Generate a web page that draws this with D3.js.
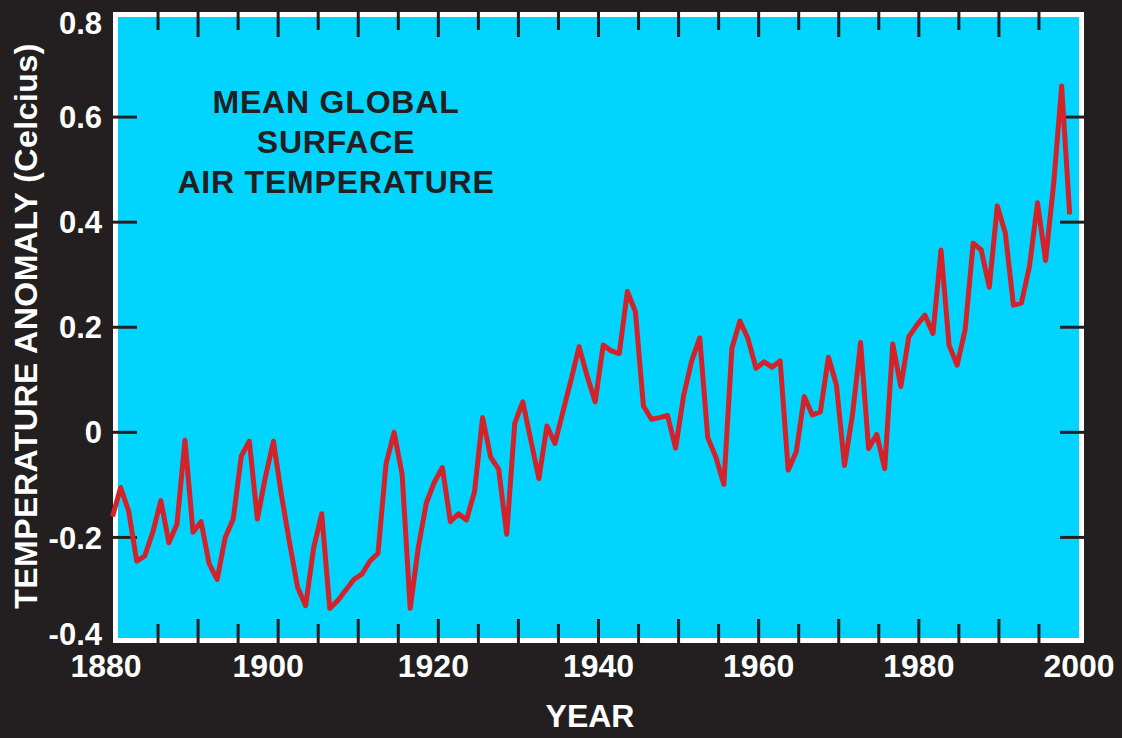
<!DOCTYPE html>
<html>
<head>
<meta charset="utf-8">
<script src="https://cdn.jsdelivr.net/npm/d3@7"></script>
<style>
    html, body { margin: 0; padding: 0; background: #231f20; }
    #chart text { font-family: 'Liberation Sans', Arial, Helvetica, sans-serif; font-weight: bold; }
</style>
</head>
<body>
<div id="chart"></div>
<script>
//Datos (anomalía anual, ºC)
const YEARS = d3.range(1880, 2000);
const ANOMALY = [
    -0.16, -0.105, -0.15, -0.245, -0.235, -0.19, -0.13, -0.21, -0.175, -0.015,
    -0.19, -0.17, -0.25, -0.28, -0.20, -0.165, -0.045, -0.017, -0.165, -0.085,
    -0.017, -0.12, -0.21, -0.295, -0.33, -0.22, -0.155, -0.335, -0.32, -0.30,
    -0.28, -0.27, -0.245, -0.23, -0.06, 0.0, -0.08, -0.335, -0.22, -0.135,
    -0.095, -0.067, -0.17, -0.155, -0.167, -0.113, 0.028, -0.047, -0.07, -0.194,
    0.017, 0.058, -0.015, -0.088, 0.012, -0.021, 0.04, 0.10, 0.163, 0.107,
    0.058, 0.166, 0.155, 0.15, 0.268, 0.23, 0.05, 0.025, 0.028, 0.032,
    -0.03, 0.07, 0.136, 0.18, -0.01, -0.047, -0.099, 0.16, 0.212, 0.178,
    0.122, 0.134, 0.124, 0.136, -0.072, -0.037, 0.068, 0.033, 0.039, 0.143,
    0.09, -0.063, 0.034, 0.171, -0.031, -0.004, -0.069, 0.168, 0.087, 0.182,
    0.204, 0.223, 0.188, 0.347, 0.166, 0.128, 0.195, 0.36, 0.347, 0.276,
    0.431, 0.379, 0.242, 0.246, 0.316, 0.437, 0.327, 0.472, 0.659, 0.415
];
const X_TICKS = d3.range(1885, 2000, 5);
const X_LABELS = [1880, 1900, 1920, 1940, 1960, 1980, 2000];
const Y_TICKS = [-0.2, 0, 0.2, 0.4, 0.6];
const Y_LABELS = [-0.4, -0.2, 0, 0.2, 0.4, 0.6, 0.8];
const TITLE_LINES = ['MEAN GLOBAL', 'SURFACE', 'AIR TEMPERATURE'];

//Colores fijos
const COLOR_BG = '#231f20';
const COLOR_PLOT = '#00d4ff';
const COLOR_LINE = '#d2232a';

let data = YEARS.map(function(y, i) { return { year: y, value: ANOMALY[i] }; });

let width = 1122, height = 738;
let frame = { left: 113, right: 1084, top: 12, bottom: 643, border: 5 };

let svg = d3.select('#chart')
    .append('svg')
        .attr('width', width)
        .attr('height', height)
        .style('display', 'block')
        .style('background', COLOR_BG);

let x = d3.scaleLinear()
    .domain([1880, 2000])
    .range([frame.left + frame.border, frame.right - frame.border]);

//La curva original está algo desplazada respecto a las marcas del eje
let xLine = d3.scaleLinear()
    .domain([1880, 1999])
    .range([112.6, 1069.7]);

let y = d3.scaleLinear()
    .domain([-0.4, 0.8])
    .range([642.5, 12]);

//Marco
svg.append('rect')
    .attr('x', frame.left + frame.border / 2)
    .attr('y', frame.top + frame.border / 2)
    .attr('width', frame.right - frame.left - frame.border)
    .attr('height', frame.bottom - frame.top - frame.border)
    .attr('fill', COLOR_PLOT)
    .attr('stroke', '#fff')
    .attr('stroke-width', frame.border);

//Marcas eje X (abajo y arriba)
let isMajor = function(d) { return d % 10 == 0; };

svg.selectAll('.xtick-bottom')
    .data(X_TICKS)
    .enter()
    .append('line')
    .attr('x1', function(d) { return x(d); })
    .attr('x2', function(d) { return x(d); })
    .attr('y1', frame.bottom)
    .attr('y2', function(d) { return frame.bottom - (isMajor(d) ? 24 : 19); })
    .attr('stroke', COLOR_BG)
    .attr('stroke-width', 3);

svg.selectAll('.xtick-top')
    .data(X_TICKS)
    .enter()
    .append('line')
    .attr('x1', function(d) { return x(d); })
    .attr('x2', function(d) { return x(d); })
    .attr('y1', frame.top)
    .attr('y2', function(d) { return frame.top + (isMajor(d) ? 25 : 18); })
    .attr('stroke', COLOR_BG)
    .attr('stroke-width', 3);

//Marcas eje Y (izquierda y derecha)
svg.selectAll('.ytick-left')
    .data(Y_TICKS)
    .enter()
    .append('line')
    .attr('x1', frame.left)
    .attr('x2', frame.left + 24)
    .attr('y1', function(d) { return y(d); })
    .attr('y2', function(d) { return y(d); })
    .attr('stroke', COLOR_BG)
    .attr('stroke-width', 3);

svg.selectAll('.ytick-right')
    .data(Y_TICKS)
    .enter()
    .append('line')
    .attr('x1', frame.right)
    .attr('x2', frame.right - 24)
    .attr('y1', function(d) { return y(d); })
    .attr('y2', function(d) { return y(d); })
    .attr('stroke', COLOR_BG)
    .attr('stroke-width', 3);

//Etiquetas de los ejes
let xNudge = { 1880: -12, 1900: -10, 1920: -5 };

svg.selectAll('.xlabel')
    .data(X_LABELS)
    .enter()
    .append('text')
    .attr('x', function(d) { return x(d) + (xNudge[d] || 0); })
    .attr('y', 677)
    .attr('text-anchor', 'middle')
    .attr('fill', '#fff')
    .style('font-size', '32px')
    .text(function(d) { return d; });

svg.selectAll('.ylabel')
    .data(Y_LABELS)
    .enter()
    .append('text')
    .attr('x', 102)
    .attr('y', function(d) { return Math.min(634, Math.max(23, y(d))); })
    .attr('dy', '0.36em')
    .attr('text-anchor', 'end')
    .attr('fill', '#fff')
    .style('font-size', '31px')
    .text(function(d) { return d == 0 ? '0' : d.toFixed(1); });

svg.append('text')
    .attr('x', 590)
    .attr('y', 727)
    .attr('text-anchor', 'middle')
    .attr('fill', '#fff')
    .style('font-size', '32px')
    .text('YEAR');

svg.append('text')
    .attr('transform', 'translate(37,326) rotate(-90)')
    .attr('text-anchor', 'middle')
    .attr('fill', '#fff')
    .style('font-size', '32px')
    .style('letter-spacing', '0.5px')
    .text('TEMPERATURE ANOMALY (Celcius)');

//Título
svg.selectAll('.title')
    .data(TITLE_LINES)
    .enter()
    .append('text')
    .attr('x', 336)
    .attr('y', function(d, i) { return 112.5 + i * 40; })
    .attr('text-anchor', 'middle')
    .attr('fill', COLOR_BG)
    .style('font-size', '32px')
    .style('letter-spacing', '0.8px')
    .text(function(d) { return d; });

//Línea
let line = d3.line()
    .x(function(d) { return xLine(d.year); })
    .y(function(d) { return y(d.value); });

svg.append('path')
    .datum(data)
    .attr('d', line)
    .attr('fill', 'none')
    .attr('stroke', COLOR_LINE)
    .attr('stroke-width', 5)
    .attr('stroke-linejoin', 'round');
</script>
</body>
</html>
